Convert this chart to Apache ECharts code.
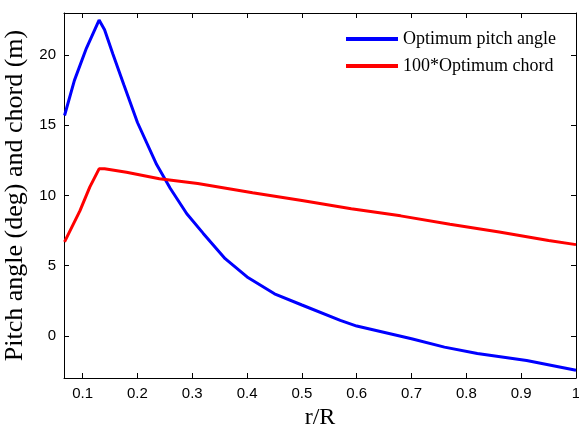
<!DOCTYPE html>
<html>
<head>
<meta charset="utf-8">
<script src="https://cdn.jsdelivr.net/npm/echarts@6/dist/echarts.min.js"></script>
<style>
  html, body { margin: 0; padding: 0; background: #fff; }
  #chart { width: 579px; height: 429px; }
</style>
</head>
<body>
<div id="chart"></div>
<script>
// values
var pitchX = [0.067, 0.085, 0.107, 0.13, 0.14, 0.155, 0.175, 0.2, 0.235, 0.26, 0.29, 0.32, 0.36, 0.4, 0.45, 0.5, 0.57, 0.6, 0.7, 0.76, 0.82, 0.91, 1.0];
var pitchY = [15.7, 18.2, 20.5, 22.5, 21.8, 20.1, 17.9, 15.2, 12.2, 10.5, 8.7, 7.3, 5.5, 4.2, 3.0, 2.2, 1.1, 0.7, -0.2, -0.8, -1.25, -1.75, -2.45];
var chordX = [0.067, 0.095, 0.113, 0.13, 0.14, 0.18, 0.24, 0.31, 0.41, 0.5, 0.59, 0.68, 0.77, 0.86, 0.95, 1.0];
var chordY = [6.7, 8.9, 10.6, 11.9, 11.9, 11.65, 11.2, 10.85, 10.2, 9.65, 9.05, 8.55, 7.95, 7.4, 6.8, 6.5];
var xTicks = [0.1, 0.2, 0.3, 0.4, 0.5, 0.6, 0.7, 0.8, 0.9, 1];
var yTicks = [0, 5, 10, 15, 20];

function pairs(xs, ys) {
    return xs.map(function (x, i) { return [x, ys[i]]; });
}
function line() {
    return { show: true, onZero: false, lineStyle: { color: '#000', width: 1 } };
}
function ticks(vals) {
    return { show: true, inside: true, length: 5, customValues: vals, lineStyle: { color: '#000', width: 1 } };
}
// no visible grid lines, but keep the split line component alive
function noGrid() {
    return { show: true, lineStyle: { color: 'rgba(0,0,0,0)' } };
}
var blank = function () { return ''; };

var chart = echarts.init(document.getElementById('chart'));
chart.setOption({
    animation: false,
    grid: { left: 64, right: 3, top: 13, bottom: 51, outerBoundsMode: 'none' },
    legend: {
        orient: 'vertical',
        left: 341,
        top: 25,
        itemWidth: 52,
        itemHeight: 4,
        itemGap: 9,
        icon: 'rect',
        textStyle: { fontFamily: 'Liberation Serif', fontSize: 18, color: '#000' },
        data: ['Optimum pitch angle', '100*Optimum chord']
    },
    xAxis: [{
        type: 'value',
        min: 0.066,
        max: 1,
        name: 'r/R',
        nameLocation: 'middle',
        nameGap: 28,
        nameTextStyle: { fontFamily: 'Liberation Serif', fontSize: 24, color: '#000' },
        axisLine: line(),
        axisTick: ticks(xTicks),
        axisLabel: {
            customValues: xTicks,
            fontFamily: 'Liberation Sans', fontSize: 15, color: '#000', margin: 8,
            formatter: function (v) { return String(+v.toFixed(1)); }
        },
        splitLine: noGrid()
    }, {
        type: 'value',
        position: 'top',
        min: 0.066,
        max: 1,
        axisLine: line(),
        axisTick: ticks(xTicks),
        axisLabel: { customValues: xTicks, formatter: blank },
        splitLine: noGrid()
    }],
    yAxis: [{
        type: 'value',
        min: -3,
        max: 23,
        name: 'Pitch angle (deg) and chord (m)',
        nameLocation: 'middle',
        nameGap: 36,
        nameTextStyle: { fontFamily: 'Liberation Serif', fontSize: 26, color: '#000' },
        axisLine: line(),
        axisTick: ticks(yTicks),
        axisLabel: {
            customValues: yTicks,
            fontFamily: 'Liberation Sans', fontSize: 15, color: '#000', margin: 8
        },
        splitLine: noGrid()
    }, {
        type: 'value',
        position: 'right',
        min: -3,
        max: 23,
        axisLine: line(),
        axisTick: ticks(yTicks),
        axisLabel: { customValues: yTicks, formatter: blank },
        splitLine: noGrid()
    }],
    series: [{
        name: 'Optimum pitch angle',
        type: 'line',
        data: pairs(pitchX, pitchY),
        showSymbol: false,
        color: '#0000ff',
        lineStyle: { width: 3, color: '#0000ff' }
    }, {
        name: '100*Optimum chord',
        type: 'line',
        data: pairs(chordX, chordY),
        showSymbol: false,
        color: '#ff0000',
        lineStyle: { width: 3, color: '#ff0000' }
    }]
});
</script>
</body>
</html>
